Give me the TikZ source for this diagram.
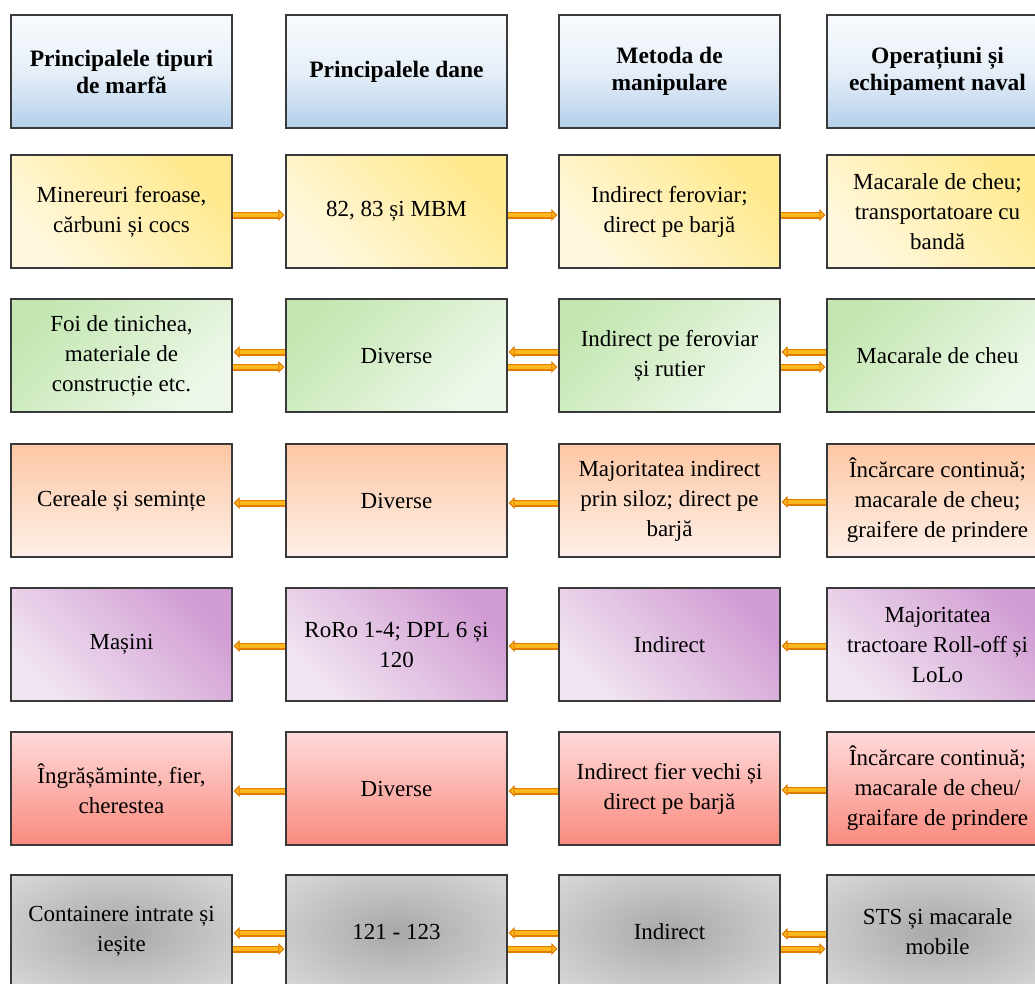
\documentclass[tikz,border=0pt]{standalone}
\usepackage{fontspec}
\setmainfont{Liberation Serif}
\usetikzlibrary{arrows.meta}
\definecolor{headtop}{HTML}{F8FBFE}
\definecolor{headmid}{HTML}{E6EFF8}
\definecolor{headbot}{HTML}{B3CFEA}
\definecolor{yellight}{HTML}{FFF8DF}
\definecolor{yeldark}{HTML}{FFE98C}
\definecolor{grndark}{HTML}{C4E7B2}
\definecolor{grnlight}{HTML}{EEF8EA}
\definecolor{pchtop}{HTML}{FDC7A4}
\definecolor{pchbot}{HTML}{FDEFE7}
\definecolor{purdark}{HTML}{D19CD3}
\definecolor{purlight}{HTML}{F1E5F1}
\definecolor{redtop}{HTML}{FFDADA}
\definecolor{redbot}{HTML}{F98A7E}
\definecolor{grayin}{HTML}{A8A8A8}
\definecolor{grayout}{HTML}{E4E4E4}
\definecolor{arrout}{HTML}{E07B00}
\definecolor{arrin}{HTML}{FFB81C}
\definecolor{boxline}{HTML}{3A3A3A}
\pgfdeclareradialshading{softrad}{\pgfpoint{0bp}{0bp}}{color(0bp)=(grayin); color(44bp)=(grayout); color(50bp)=(grayout)}
\tikzset{
  cell/.style={draw=boxline, line width=1.3pt, minimum width=221pt, minimum height=113pt,
    inner sep=0pt, align=center, font=\fontsize{23}{30}\selectfont},
  headbox/.style={cell, top color=headtop, bottom color=headbot, middle color=headmid,
    font=\fontsize{23.5}{27}\selectfont\bfseries},
  yelbox/.style={cell, bottom color=yellight, top color=yeldark, shading angle=-45},
  grnbox/.style={cell, top color=grndark, bottom color=grnlight, shading angle=45},
  pchbox/.style={cell, top color=pchtop, bottom color=pchbot},
  purbox/.style={cell, top color=purdark, bottom color=purlight, shading angle=-45},
  redbox/.style={cell, top color=redtop, bottom color=redbot},
  graybox/.style={cell, shading=softrad},
  arr/.style={draw=arrin, line width=4pt, -{Triangle[length=6pt,width=12pt,fill=arrin,color=arrout,line width=1pt]},
    shorten >=1pt,
    preaction={draw=arrout, line width=7pt, -, shorten >=6pt}},
}
\begin{document}
\begin{tikzpicture}[x=1pt,y=-1pt]
\useasboundingbox (0,0) rectangle (1035,983);
\clip (0,0) rectangle (1035,983);
\fill[white] (0,0) rectangle (1035,983);
% headers
\node[headbox] (h1) at (121.5,71.5) {Principalele tipuri\\de marfă};
\node[headbox] (h2) at (396.5,71.5) {Principalele dane};
\node[headbox] (h3) at (669.5,71.5) {Metoda de\\manipulare};
\node[headbox] (h4) at (937.5,71.5) {Operațiuni și\\echipament naval};
% row 1
\node[yelbox] (a1) at (121.5,211.5) {Minereuri feroase,\\cărbuni și cocs};
\node[yelbox] (a2) at (396.5,211.5) {82, 83 și MBM};
\node[yelbox] (a3) at (669.5,211.5) {Indirect feroviar;\\direct pe barjă};
\node[yelbox] (a4) at (937.5,211.5) {Macarale de cheu;\\transportatoare cu\\bandă};
% row 2
\node[grnbox] (b1) at (121.5,355.5) {Foi de tinichea,\\materiale de\\construcție etc.};
\node[grnbox] (b2) at (396.5,355.5) {Diverse};
\node[grnbox] (b3) at (669.5,355.5) {Indirect pe feroviar\\și rutier};
\node[grnbox] (b4) at (937.5,355.5) {Macarale de cheu};
% row 3
\node[pchbox] (c1) at (121.5,500.5) {Cereale și semințe};
\node[pchbox] (c2) at (396.5,500.5) {Diverse};
\node[pchbox] (c3) at (669.5,500.5) {Majoritatea indirect\\prin siloz; direct pe\\barjă};
\node[pchbox] (c4) at (937.5,500.5) {Încărcare continuă;\\macarale de cheu;\\graifere de prindere};
% row 4
\node[purbox] (d1) at (121.5,644.5) {Mașini};
\node[purbox] (d2) at (396.5,644.5) {RoRo 1-4; DPL 6 și\\120};
\node[purbox] (d3) at (669.5,644.5) {Indirect};
\node[purbox] (d4) at (937.5,644.5) {Majoritatea\\tractoare Roll-off și\\LoLo};
% row 5
\node[redbox] (e1) at (121.5,788.5) {Îngrășăminte, fier,\\cherestea};
\node[redbox] (e2) at (396.5,788.5) {Diverse};
\node[redbox] (e3) at (669.5,788.5) {Indirect fier vechi și\\direct pe barjă};
\node[redbox] (e4) at (937.5,788.5) {Încărcare continuă;\\macarale de cheu/\\graifare de prindere};
% row 6
\node[graybox] (f1) at (121.5,931.5) {Containere intrate și\\ieșite};
\node[graybox] (f2) at (396.5,931.5) {121 - 123};
\node[graybox] (f3) at (669.5,931.5) {Indirect};
\node[graybox] (f4) at (937.5,931.5) {STS și macarale\\mobile};
% arrows row 1
\draw[arr] (a1.east |- 0,215) -- (a2.west |- 0,215);
\draw[arr] (a2.east |- 0,215) -- (a3.west |- 0,215);
\draw[arr] (a3.east |- 0,215) -- (a4.west |- 0,215);
% row 2
\draw[arr] (b2.west |- 0,352) -- (b1.east |- 0,352);
\draw[arr] (b1.east |- 0,367) -- (b2.west |- 0,367);
\draw[arr] (b3.west |- 0,352) -- (b2.east |- 0,352);
\draw[arr] (b2.east |- 0,367) -- (b3.west |- 0,367);
\draw[arr] (b4.west |- 0,352) -- (b3.east |- 0,352);
\draw[arr] (b3.east |- 0,367) -- (b4.west |- 0,367);
% row 3
\draw[arr] (c2.west |- 0,503) -- (c1.east |- 0,503);
\draw[arr] (c3.west |- 0,503) -- (c2.east |- 0,503);
\draw[arr] (c4.west |- 0,502) -- (c3.east |- 0,502);
% row 4
\draw[arr] (d2.west |- 0,646) -- (d1.east |- 0,646);
\draw[arr] (d3.west |- 0,646) -- (d2.east |- 0,646);
\draw[arr] (d4.west |- 0,646) -- (d3.east |- 0,646);
% row 5
\draw[arr] (e2.west |- 0,791) -- (e1.east |- 0,791);
\draw[arr] (e3.west |- 0,791) -- (e2.east |- 0,791);
\draw[arr] (e4.west |- 0,790) -- (e3.east |- 0,790);
% row 6
\draw[arr] (f2.west |- 0,933) -- (f1.east |- 0,933);
\draw[arr] (f1.east |- 0,949) -- (f2.west |- 0,949);
\draw[arr] (f3.west |- 0,933) -- (f2.east |- 0,933);
\draw[arr] (f2.east |- 0,949) -- (f3.west |- 0,949);
\draw[arr] (f4.west |- 0,934) -- (f3.east |- 0,934);
\draw[arr] (f3.east |- 0,949) -- (f4.west |- 0,949);
\end{tikzpicture}
\end{document}
